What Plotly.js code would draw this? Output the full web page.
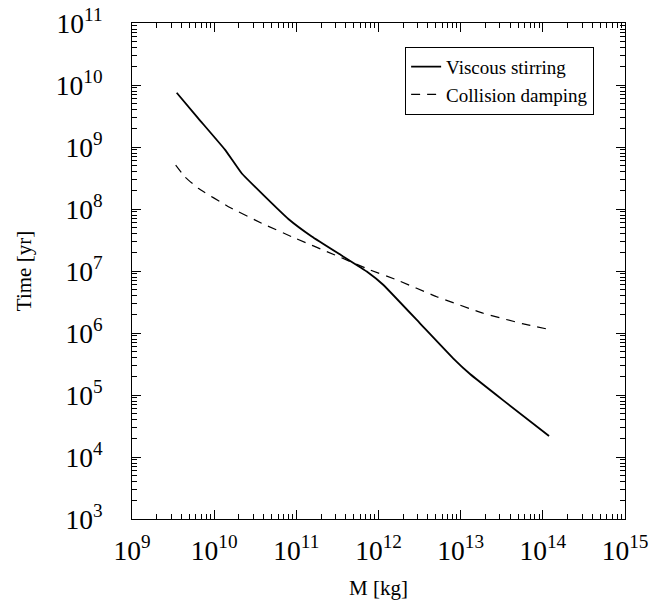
<!DOCTYPE html>
<html><head><meta charset="utf-8">
<script src="https://cdn.plot.ly/plotly-3.0.1.min.js"></script>
<style>body{margin:0;background:#fff}#plot{width:655px;height:610px}</style>
</head><body><div id="plot"></div>
<script>
const viscousMass = [3.5e9, 6.4e9, 1.36e10, 2.16e10, 4.16e10, 8.0e10, 1.54e11, 3.7e11, 7.2e11, 1.14e12, 3.2e12, 8.1e12, 1.3e13, 3.3e13, 1.19e14];
const viscousTime = [7.5e9, 2.9e9, 9.0e8, 3.77e8, 1.58e8, 6.9e7, 3.6e7, 1.72e7, 9.8e6, 6.0e6, 1.43e6, 3.91e5, 2.18e5, 8.2e4, 2.18e4];
const dampingMass = [3.4e9, 4.4e9, 6.4e9, 1.49e10, 3.78e10, 8.8e10, 2.95e11, 7.9e11, 1.66e12, 5.1e12, 1.88e13, 5.8e13, 1.16e14];
const dampingTime = [5.1e8, 3.3e8, 2.16e8, 1.09e8, 5.9e7, 3.57e7, 1.81e7, 1.04e7, 7.2e6, 3.85e6, 2.08e6, 1.40e6, 1.15e6];
const seriesNames = ["Viscous stirring", "Collision damping"];
const xTitle = "M [kg]";
const yTitle = "Time [yr]";
const xDecades = [9, 15];
const yDecades = [3, 11];

function minorVals(range) {
  const v = [];
  for (let d = range[0]; d < range[1]; d++) for (let k = 2; k <= 9; k++) v.push(k * Math.pow(10, d));
  return v;
}

const font = "Liberation Serif";
const traces = [
  {x: viscousMass, y: viscousTime, name: seriesNames[0], mode: "lines", line: {color: "#000", width: 1.8, shape: "spline", smoothing: 0.3}},
  {x: dampingMass, y: dampingTime, name: seriesNames[1], mode: "lines", line: {color: "#000", width: 1.2, dash: "9px,7px", shape: "spline", smoothing: 0.3}},
  // invisible carrier so the minor-tick axes are drawn
  {x: dampingMass, y: dampingTime, xaxis: "x2", yaxis: "y2", mode: "lines", opacity: 0, showlegend: false, hoverinfo: "skip", line: {width: 0}}
];
const axisCommon = {
  type: "log", dtick: 1, exponentformat: "power",
  ticks: "inside", ticklen: 9, tickwidth: 1, tickcolor: "#000",
  showline: true, linecolor: "#000", linewidth: 1, mirror: "allticks",
  showgrid: false, zeroline: false,
  tickfont: {family: font, size: 22, color: "#000"}
};
const minorAxis = {
  type: "log", tickmode: "array", showticklabels: false,
  ticks: "inside", ticklen: 5, tickwidth: 1, tickcolor: "#000",
  showline: false, mirror: "allticks", showgrid: false, zeroline: false
};
const layout = {
  width: 655, height: 610,
  margin: {l: 132, r: 30, t: 23, b: 91},
  paper_bgcolor: "#fff", plot_bgcolor: "#fff",
  font: {family: font, color: "#000"},
  showlegend: true,
  legend: {x: 0.554, y: 0.952, xanchor: "left", yanchor: "top", bordercolor: "#000", borderwidth: 1,
           bgcolor: "#fff", tracegroupgap: 0, font: {family: font, size: 19, color: "#000"}},
  xaxis: Object.assign({}, axisCommon, {range: xDecades, ticklabelstandoff: 8,
    title: {text: xTitle, font: {family: font, size: 21}, standoff: 15}}),
  yaxis: Object.assign({}, axisCommon, {range: yDecades, ticklabelstandoff: 24,
    title: {text: yTitle, font: {family: font, size: 21}, standoff: 18}}),
  xaxis2: Object.assign({}, minorAxis, {overlaying: "x", side: "bottom", anchor: "y2", range: xDecades, tickvals: minorVals(xDecades)}),
  yaxis2: Object.assign({}, minorAxis, {overlaying: "y", side: "left", anchor: "x2", range: yDecades, tickvals: minorVals(yDecades)})
};
Plotly.newPlot("plot", traces, layout, {displayModeBar: false, staticPlot: true});
</script></body></html>
